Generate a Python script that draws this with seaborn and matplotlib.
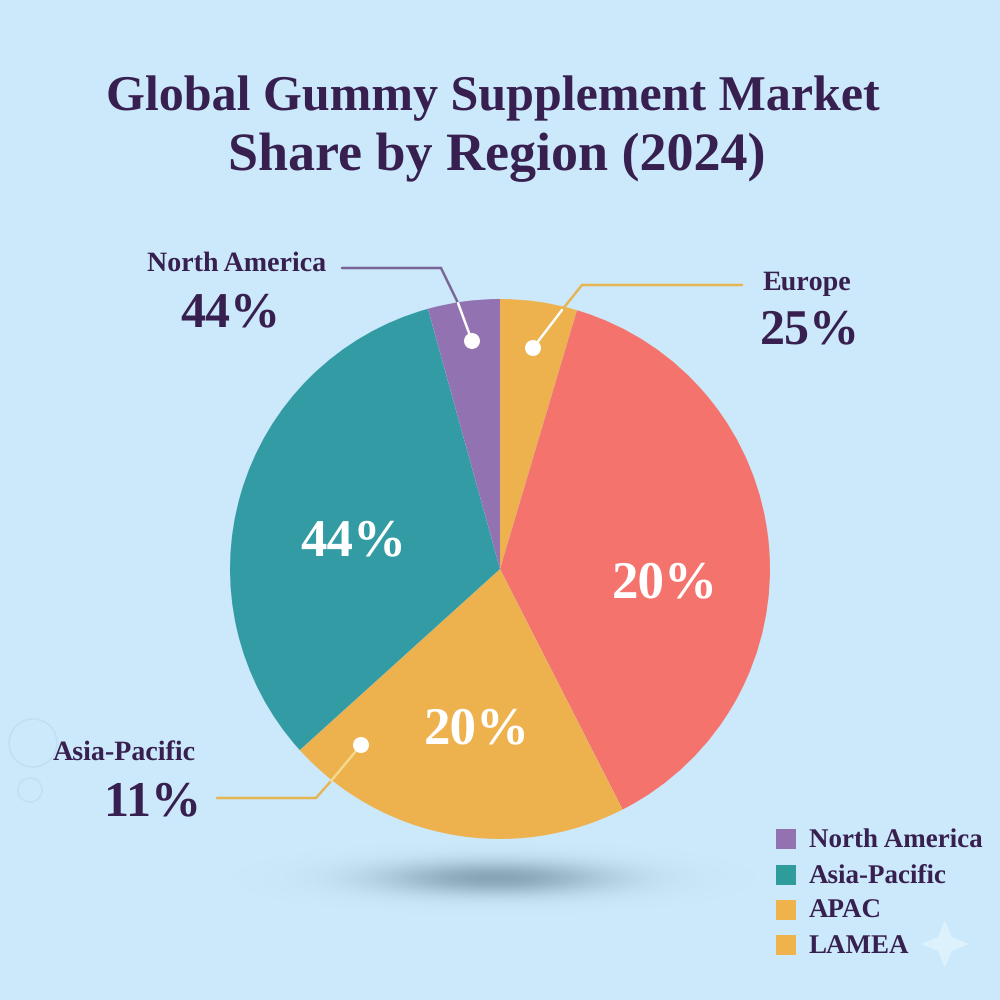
import numpy as np
import matplotlib
matplotlib.use("Agg")
import matplotlib.pyplot as plt
from matplotlib.patches import Rectangle, Polygon, Circle
import seaborn as sns

title_lines = ["Global Gummy Supplement Market", "Share by Region (2024)"]
slice_names = ["Europe slice", "Coral slice", "APAC slice", "Asia-Pacific slice", "North America slice"]
slice_sizes = [4.6, 37.9, 20.8, 32.4, 4.3]
slice_colors = ["#EDB24E", "#F4736C", "#EDB24E", "#329BA3", "#9272B0"]
inner_labels = ["20%", "20%", "44%"]
legend_names = ["North America", "Asia-Pacific", "APAC", "LAMEA"]
legend_colors = ["#9272B0", "#2F9C9C", "#F0B24A", "#F0B24A"]
callout_names = ["North America", "Europe", "Asia-Pacific"]
callout_values = ["44%", "25%", "11%"]

DARK = "#37204F"
BG = "#CBE9FB"
sns.set_theme(style="white")
plt.rcParams["font.family"] = ["Liberation Serif", "DejaVu Serif"]
plt.rcParams["font.weight"] = "bold"
plt.rcParams["text.hinting"] = "no_hinting"
plt.rcParams["text.hinting_factor"] = 1

fig = plt.figure(figsize=(10, 10), dpi=100, facecolor=BG)
ax = fig.add_axes([0, 0, 1, 1])
ax.set_facecolor(BG)

# ground shadow
sy, sx = np.mgrid[820:940:160j, 100:900:600j]
shade = np.exp(-(((sx - 495) / 115) ** 2 + ((sy - 878) / 17) ** 2))
rgba = np.zeros(shade.shape + (4,))
rgba[..., :3] = matplotlib.colors.to_rgb("#6B8799")
rgba[..., 3] = shade * 0.7
ax.imshow(rgba, extent=(100, 900, 940, 820), zorder=1, aspect="auto")

# pie: the y axis is inverted, so counterclock in data is clockwise on screen
palette = sns.color_palette(slice_colors)
ax.pie(slice_sizes, colors=palette, center=(500, 569), radius=270,
       startangle=-90, counterclock=True, frame=True,
       wedgeprops=dict(linewidth=0, zorder=3))
ax.set_xlim(0, 1000)
ax.set_ylim(1000, 0)
ax.set_aspect("equal")
ax.axis("off")

# texts inside the pie
for (x, y), s in zip([(665, 597), (477, 743), (353, 555)], inner_labels):
    ax.text(x, y, s, color="white", fontsize=37.8, ha="center", va="baseline", zorder=6)

# callout leaders: outer part in colour, part over the slice in a light tone
lines = [
    ([342, 441, 458], [268, 268, 303], "#7A6496", [(458, 303), (472, 341)], "white"),
    ([742, 582, 562], [285, 285, 310], "#E6B552", [(562, 310), (533, 348)], "white"),
    ([217, 316, 331], [798, 798, 781], "#E6B552", [(331, 781), (361, 745)], "#F5D98E"),
]
for xs, ys, col, inner, incol in lines:
    ax.plot(xs, ys, color=col, lw=1.8, zorder=4, solid_joinstyle="miter")
    (x0, y0), (x1, y1) = inner
    ax.plot([x0, x1], [y0, y1], color=incol, lw=1.8, zorder=5)
    ax.add_patch(Circle((x1, y1), 8, color="white", zorder=6, lw=0))

pos_name = [(237, 271), (807, 290), (124, 761)]
pos_val = [(230, 326), (810, 343), (152, 815)]
for (nx, ny), (vx, vy), n, v in zip(pos_name, pos_val, callout_names, callout_values):
    ax.text(nx, ny, n, color=DARK, fontsize=20.5, ha="center", va="baseline", zorder=6)
    ax.text(vx, vy, v, color=DARK, fontsize=36.3, ha="center", va="baseline", zorder=6)

# title
for x, y, fs, line in zip([493, 497], [110, 170], [36.2, 39.2], title_lines):
    ax.text(x, y, line, color=DARK, fontsize=fs, ha="center", va="baseline", zorder=6)

# legend
leg_y = [839, 875, 910, 945]
leg_base = [848, 883, 918, 953]
for y, b, n, c in zip(leg_y, leg_base, legend_names, legend_colors):
    ax.add_patch(Rectangle((776, y - 10), 20, 20, color=c, lw=0, zorder=6))
    ax.text(809, b, n, color=DARK, fontsize=19.2, ha="left", va="baseline", zorder=6)

# sparkle
sx0, sy0 = 945, 944
ax.add_patch(Polygon([(sx0 - 24, sy0), (sx0 - 7, sy0 - 7), (sx0, sy0 - 24), (sx0 + 7, sy0 - 7),
                      (sx0 + 24, sy0), (sx0 + 7, sy0 + 7), (sx0, sy0 + 24), (sx0 - 7, sy0 + 7)],
                     color="#DDF1FD", lw=0, zorder=5))

# faint bubbles
for (cx, cy, r) in [(33, 743, 24), (30, 790, 12)]:
    ax.add_patch(Circle((cx, cy), r, fill=False, ec="#C0E0F1", lw=1.2, zorder=2))

fig.savefig("out.png", dpi=100, facecolor=BG)
